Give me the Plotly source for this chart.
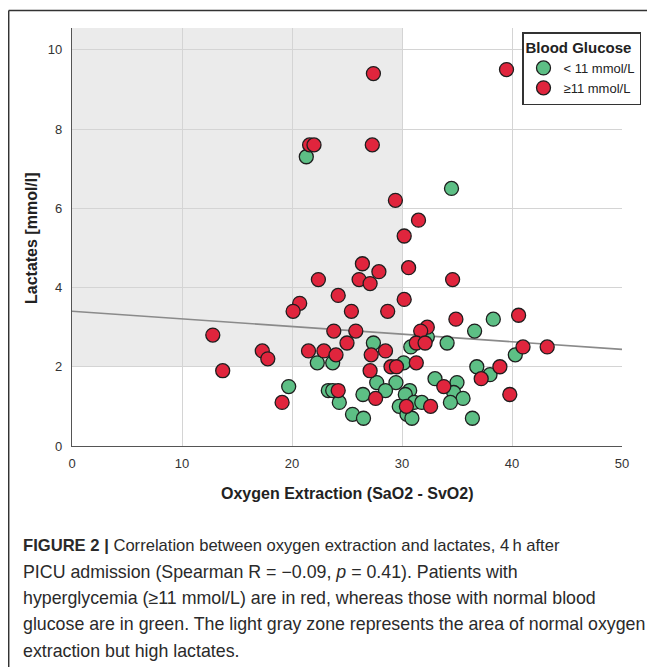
import plotly.graph_objects as go

# ---- data ----
green_x = [21.3, 34.5, 38.3, 36.6, 32.3, 34.1, 27.4, 30.8, 40.3, 22.3, 23.7, 30.15,
           36.8, 38.0, 19.7, 27.7, 29.45, 33.0, 35.0, 23.3, 23.7, 28.5, 30.7, 34.7,
           26.45, 30.3, 35.55, 24.3, 31.1, 31.8, 34.4, 29.75, 25.5, 30.45, 26.5, 30.9, 36.4]
green_y = [7.3, 6.5, 3.2, 2.9, 2.75, 2.6, 2.6, 2.5, 2.3, 2.1, 2.1, 2.1,
           2.0, 1.8, 1.5, 1.6, 1.6, 1.7, 1.6, 1.4, 1.4, 1.4, 1.4, 1.35,
           1.3, 1.3, 1.2, 1.1, 1.1, 1.1, 1.1, 1.0, 0.8, 0.8, 0.7, 0.7, 0.7]

red_x = [27.4, 39.5, 21.6, 22.0, 27.3, 29.4, 31.5, 30.2, 26.4, 30.6, 27.9, 22.4,
         26.1, 34.6, 27.1, 24.2, 30.2, 20.7, 20.1, 25.4, 28.7, 40.6, 34.9, 32.3,
         23.8, 25.8, 31.7, 12.8, 25.0, 31.3, 32.1, 41.0, 43.2, 17.3, 21.5, 22.9,
         28.5, 24.0, 27.2, 17.8, 31.3, 29.0, 29.5, 38.9, 13.7, 27.1, 37.2, 33.8,
         24.2, 39.8, 27.6, 19.1, 30.4, 32.6]
red_y = [9.4, 9.5, 7.6, 7.6, 7.6, 6.2, 5.7, 5.3, 4.6, 4.5, 4.4, 4.2,
         4.2, 4.2, 4.1, 3.8, 3.7, 3.6, 3.4, 3.4, 3.4, 3.3, 3.2, 3.0,
         2.9, 2.9, 2.9, 2.8, 2.6, 2.6, 2.6, 2.5, 2.5, 2.4, 2.4, 2.4,
         2.4, 2.3, 2.3, 2.2, 2.1, 2.0, 2.0, 2.0, 1.9, 1.9, 1.7, 1.5,
         1.4, 1.3, 1.2, 1.1, 1.0, 1.0]

trend_x = [0, 50]
trend_y = [3.40, 2.44]

zone_x = [0, 30]        # normal oxygen extraction
zone_y_min = 2          # high lactates

x_ticks = [0, 10, 20, 30, 40, 50]
y_ticks = [0, 2, 4, 6, 8, 10]

legend_title = "Blood Glucose"
green_name = "< 11 mmol/L"
red_name = "≥11 mmol/L"

x_title = "Oxygen Extraction (SaO2 - SvO2)"
y_title = "Lactates [mmol/l]"

caption_lines = [
    "<b>FIGURE 2 |</b> Correlation between oxygen extraction and lactates, 4\u2009h after",
    "PICU admission (Spearman R = \u22120.09, <i>p</i> = 0.41). Patients with",
    "hyperglycemia (\u226511 mmol/L) are in red, whereas those with normal blood",
    "glucose are in green. The light gray zone represents the area of normal oxygen",
    "extraction but high lactates.",
]

# ---- layout geometry ----
# The page body adds an 8px offset, so the figure is 8px smaller and all
# reference page positions are shifted by -8.
OFF = 8
W, H = 655 - OFF, 667 - OFF
PLOT_L, PLOT_R, PLOT_T, PLOT_B = 72 - OFF, 622 - OFF, 28 - OFF, 446 - OFF
L, R, T, B = PLOT_L, W - PLOT_R, PLOT_T, H - PLOT_B
PW, PH = PLOT_R - PLOT_L, PLOT_B - PLOT_T
Y_MAX = 10.55


def px_x(p):
    """reference page x pixel -> paper coordinate"""
    return (p - OFF - PLOT_L) / PW


def px_y(p):
    """reference page y pixel -> paper coordinate"""
    return (PLOT_B - (p - OFF)) / PH


FONT = "Liberation Sans, Arial, sans-serif"
GREEN = "#5dbf85"
RED = "#e0253d"

fig = go.Figure()

fig.add_trace(go.Scatter(
    x=trend_x, y=trend_y, mode="lines",
    line=dict(color="#8a8a8a", width=1.6),
    showlegend=False, hoverinfo="skip"))

fig.add_trace(go.Scatter(
    x=green_x, y=green_y, mode="markers", name=green_name,
    marker=dict(size=14, color=GREEN, line=dict(color="#1e1e1e", width=1.3))))

fig.add_trace(go.Scatter(
    x=red_x, y=red_y, mode="markers", name=red_name,
    marker=dict(size=14, color=RED, line=dict(color="#1e1e1e", width=1.3))))

shapes = [
    dict(type="rect", xref="x", yref="y", x0=zone_x[0], x1=zone_x[1],
         y0=zone_y_min, y1=Y_MAX, fillcolor="#ebebeb", line=dict(width=0),
         layer="below"),
    dict(type="line", xref="paper", yref="paper", x0=px_x(8.7), x1=px_x(660),
         y0=px_y(10.5), y1=px_y(10.5), line=dict(color="#333333", width=1.5)),
    dict(type="line", xref="paper", yref="paper", x0=px_x(8.7), x1=px_x(8.7),
         y0=px_y(10.5), y1=px_y(670), line=dict(color="#333333", width=1.5)),
]

annotations = [
    dict(text="<b>" + x_title + "</b>", xref="paper", yref="paper",
         x=px_x(347), y=px_y(493), showarrow=False, xanchor="center", yanchor="middle",
         font=dict(family=FONT, size=16, color="#222222")),
    dict(text="<b>" + y_title + "</b>", xref="paper", yref="paper",
         x=px_x(31), y=px_y(238), showarrow=False, textangle=-90,
         xanchor="center", yanchor="middle",
         font=dict(family=FONT, size=16, color="#222222")),
]
line_y = [545, 572, 598, 624, 651]
line_size = [16.6, 17.8, 17.8, 17.8, 17.8]
for txt, yy, sz in zip(caption_lines, line_y, line_size):
    annotations.append(dict(
        text=txt, xref="paper", yref="paper", x=px_x(21), y=px_y(yy),
        showarrow=False, xanchor="left", yanchor="middle", align="left",
        font=dict(family=FONT, size=sz, color="#2a2a2a")))

fig.update_layout(
    width=W, height=H, autosize=False,
    margin=dict(l=L, r=R, t=T, b=B, pad=0),
    paper_bgcolor="white", plot_bgcolor="white",
    font=dict(family=FONT, size=12, color="#333333"),
    shapes=shapes, annotations=annotations,
    legend=dict(
        title=dict(text="<b>" + legend_title + "</b>",
                   font=dict(family=FONT, size=15, color="#222222"), side="top"),
        x=px_x(522), y=px_y(32), xanchor="left", yanchor="top",
        bgcolor="white", bordercolor="#333333", borderwidth=1.5,
        font=dict(family=FONT, size=13, color="#222222"),
        itemwidth=30, tracegroupgap=0),
)

fig.update_xaxes(
    range=[0, 50], tickvals=x_ticks, showgrid=True, gridcolor="#d4d4d4", gridwidth=1,
    zeroline=False, showline=True, linecolor="#555555", linewidth=1.2,
    ticks="outside", ticklen=5, tickcolor="rgba(0,0,0,0)",
    tickfont=dict(family=FONT, size=13, color="#333333"), fixedrange=True)
fig.update_yaxes(
    range=[0, Y_MAX], tickvals=y_ticks, showgrid=True, gridcolor="#d4d4d4", gridwidth=1,
    zeroline=False, showline=True, linecolor="#555555", linewidth=1.2,
    ticks="outside", ticklen=6, tickcolor="rgba(0,0,0,0)",
    tickfont=dict(family=FONT, size=13, color="#333333"), fixedrange=True)

fig.write_html("out.html")
